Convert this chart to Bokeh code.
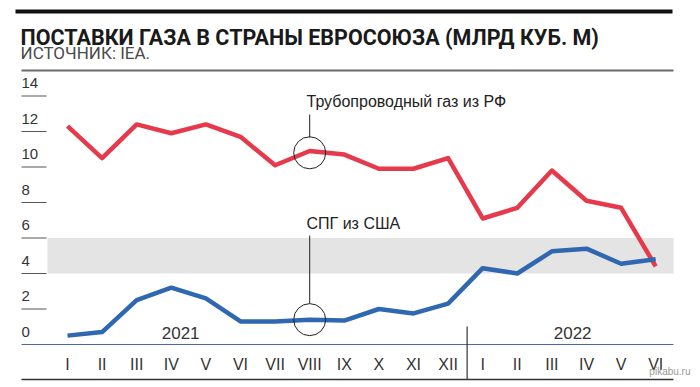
from bokeh.plotting import figure
from bokeh.models import Range1d
from bokeh.core.properties import value
from bokeh.embed import file_html
from bokeh.resources import INLINE

months = ["I", "II", "III", "IV", "V", "VI", "VII", "VIII", "IX", "X", "XI", "XII",
          "I", "II", "III", "IV", "V", "VI"]
pipeline_ru = [12.3, 10.5, 12.4, 11.9, 12.4, 11.7, 10.1, 10.9, 10.7, 9.9, 9.9, 10.5,
               7.1, 7.7, 9.8, 8.1, 7.7, 4.4]
lng_us = [0.5, 0.7, 2.5, 3.2, 2.6, 1.3, 1.3, 1.4, 1.35, 2.0, 1.75, 2.3,
          4.3, 4.0, 5.25, 5.4, 4.55, 4.8]
y_ticks = [0, 2, 4, 6, 8, 10, 12, 14]
years = ["2021", "2022"]
band = (4, 6)

W, H = 700, 387
OFF = 0
# pixel (screenshot) -> data helpers for decorations
X0, DX = 67.0, 34.6
Y0, DY = 344.0, 17.75
TS = 5.0  # text baseline correction in px
def px2x(px): return (px - X0) / DX
def px2y(py): return (Y0 - py) / DY
def tpy(py): return px2y(py - TS)

FONT = "Liberation Sans"
p = figure(width=W, height=H, output_backend="svg", toolbar_location=None,
           x_range=Range1d(px2x(OFF), px2x(OFF + W)), y_range=Range1d(px2y(OFF + H), px2y(OFF)),
           min_border=0, outline_line_color=None)
p.axis.visible = False
p.grid.visible = False

xs = list(range(len(months)))

# top rules
p.segment(x0=[px2x(15)], y0=[px2y(11)], x1=[px2x(672)], y1=[px2y(11)], line_color="#111111", line_width=4)
p.segment(x0=[px2x(21)], y0=[px2y(70)], x1=[px2x(673)], y1=[px2y(70)], line_color="#6a6a6a", line_width=2)

# title / subtitle
p.text(x=[px2x(20)], y=[tpy(42)], text=["ПОСТАВКИ ГАЗА В СТРАНЫ ЕВРОСОЮЗА (МЛРД КУБ. М)"],
       text_font=value("Roboto"), text_font_style="bold", text_font_size="21.5px",
       text_color="#1a1a1a", text_baseline="alphabetic")
p.text(x=[px2x(20)], y=[tpy(57.5)], text=["ИСТОЧНИК: IEA."],
       text_font=value("Roboto"), text_font_size="17px",
       text_color="#4a4a4a", text_baseline="alphabetic")

# grey band
p.quad(left=[px2x(47)], right=[px2x(673)], bottom=[band[0]], top=[band[1]],
       fill_color="#e4e4e4", line_color=None)

# y tick marks and labels
tk = [t for t in y_ticks if t != 0]
p.segment(x0=[px2x(21)] * len(tk), y0=tk, x1=[px2x(46)] * len(tk), y1=tk,
          line_color="#555555", line_width=1)
p.text(x=[px2x(21)] * len(y_ticks), y=[t + 0.45 + TS / DY for t in y_ticks], text=[str(t) for t in y_ticks],
       text_font=value(FONT), text_font_size="15px", text_color="#333333",
       text_baseline="alphabetic", text_align="left")

# baseline
p.segment(x0=[px2x(21)], y0=[0], x1=[px2x(673)], y1=[0], line_color="#4a6aa5", line_width=1)

# data lines
p.line(xs, pipeline_ru, line_color="#e63a4c", line_width=4.5, line_join="round")
p.line(xs, lng_us, line_color="#2f68b0", line_width=4.5, line_join="round")

# month labels
p.text(x=xs, y=[tpy(369)] * len(xs), text=months, text_font=value(FONT), text_font_size="16px",
       text_color="#333333", text_align="center", text_baseline="alphabetic")

# year labels, divider, bottom rule
p.text(x=[3.27, 14.6], y=[tpy(337)] * 2, text=years, text_font=value(FONT), text_font_size="17px",
       text_color="#333333", text_align="center", text_baseline="alphabetic")
p.segment(x0=[11.55], y0=[px2y(326)], x1=[11.55], y1=[px2y(379)], line_color="#333333", line_width=1.2)
p.segment(x0=[px2x(21)], y0=[px2y(379)], x1=[px2x(673)], y1=[px2y(379)], line_color="#333333", line_width=1.5)

# annotations
p.scatter(x=[7, 7], y=[pipeline_ru[7] - 0.1, lng_us[7]], marker="circle", size=32,
          fill_color=None, line_color="#222222", line_width=1)
p.segment(x0=[7], y0=[px2y(114)], x1=[7], y1=[px2y(137)], line_color="#222222", line_width=1)
p.segment(x0=[7], y0=[px2y(235)], x1=[7], y1=[px2y(303)], line_color="#222222", line_width=1)
p.text(x=[px2x(306)] * 2, y=[tpy(106), tpy(228)], text=["Трубопроводный газ из РФ", "СПГ из США"],
       text_font=value(FONT), text_font_size="16px", text_color="#222222",
       text_baseline="alphabetic", text_align="left")

# watermark
p.text(x=[px2x(690)], y=[tpy(376)], text=["pikabu.ru"], text_font=value(FONT), text_font_size="10px",
       text_color="#9a9a9a", text_align="right", text_baseline="alphabetic")

open("out.html", "w").write(file_html(p, INLINE))
